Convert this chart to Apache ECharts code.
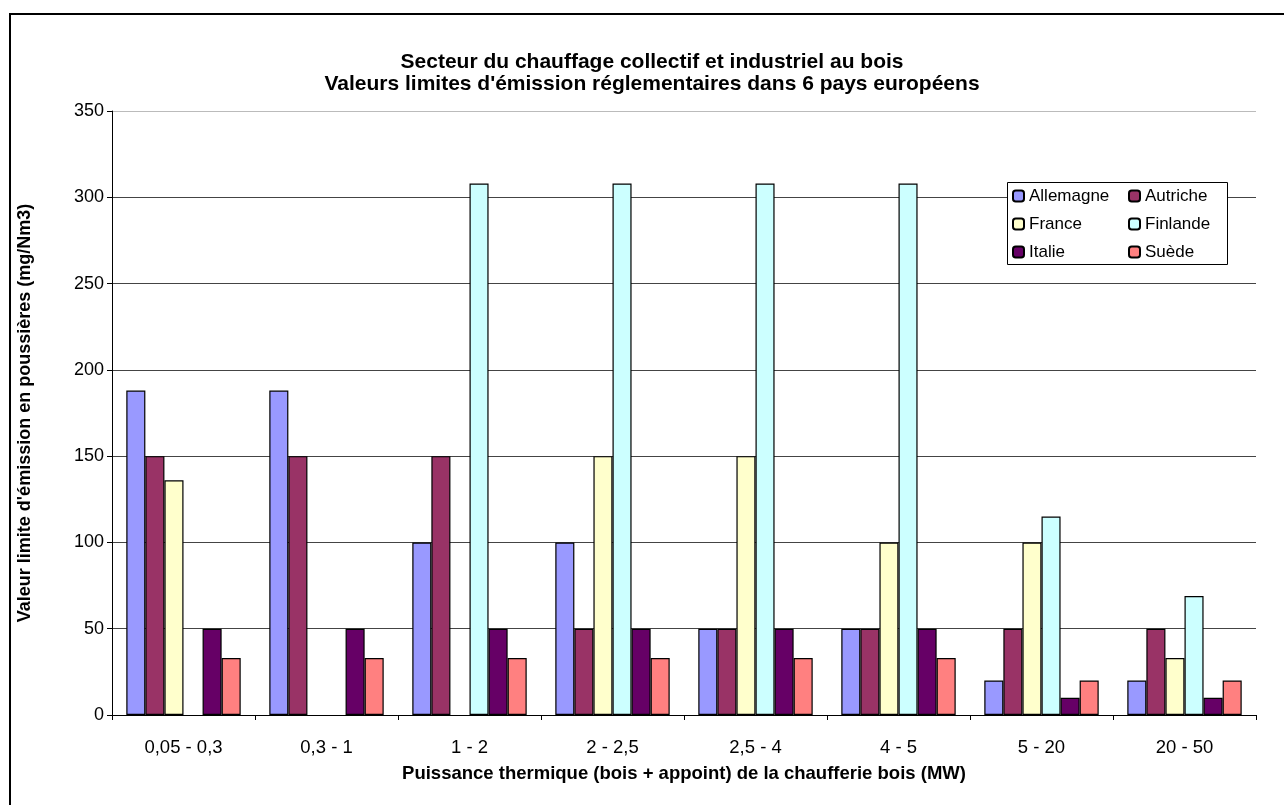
<!DOCTYPE html>
<html>
<head>
<meta charset="utf-8">
<script src="https://cdn.jsdelivr.net/npm/echarts@6/dist/echarts.min.js"></script>
<style>
  html, body { margin: 0; padding: 0; background: #ffffff; }
  #chart { width: 1284px; height: 805px; }
</style>
</head>
<body>
<div id="chart"></div>
<script>
// Power classes of the boiler (MW)
const categories = ['0,05 - 0,3', '0,3 - 1', '1 - 2', '2 - 2,5', '2,5 - 4', '4 - 5', '5 - 20', '20 - 50'];

// Dust emission limit values per country (mg/Nm3); null = no limit given
const allemagne = [188, 188, 100, 100, 50, 50, 20, 20];
const autriche  = [150, 150, 150, 50, 50, 50, 50, 50];
const france    = [136, null, null, 150, 150, 100, 100, 33];
const finlande  = [null, null, 308, 308, 308, 308, 115, 69];
const italie    = [50, 50, 50, 50, 50, 50, 10, 10];
const suede     = [33, 33, 33, 33, 33, 33, 20, 20];

const countries = ['Allemagne', 'Autriche', 'France', 'Finlande', 'Italie', 'Suède'];
const values = [allemagne, autriche, france, finlande, italie, suede];
const colors = ['#9999FF', '#993366', '#FFFFCC', '#CCFFFF', '#660066', '#FF8080'];

const FONT = '"Liberation Sans", Arial, sans-serif';

const chart = echarts.init(document.getElementById('chart'), null, { renderer: 'canvas' });

const series = countries.map((name, i) => ({
  name: name,
  type: 'bar',
  data: values[i],
  barGap: '0%',
  barCategoryGap: '20%',
  itemStyle: { color: colors[i], borderColor: '#000', borderWidth: 1.2 },
  emphasis: { disabled: true },
  animation: false
}));

const legendText = { fontFamily: FONT, fontSize: 17, color: '#000', lineHeight: 18 };

chart.setOption({
  backgroundColor: '#ffffff',
  animation: false,
  title: {
    text: "Secteur du chauffage collectif et industriel au bois\nValeurs limites d'émission réglementaires dans 6 pays européens",
    left: 652,
    top: 51,
    padding: 0,
    textAlign: 'center',
    textStyle: { fontFamily: FONT, fontSize: 21, fontWeight: 'bold', color: '#000', lineHeight: 22 }
  },
  grid: { left: 112, right: 28, top: 111, bottom: 90, containLabel: false },
  legend: [
    {
      data: ['Allemagne', 'France', 'Italie'],
      orient: 'vertical', left: 1012, top: 187, padding: 0,
      itemWidth: 11, itemHeight: 11, itemGap: 10,
      textStyle: legendText, z: 6, selectedMode: false
    },
    {
      data: ['Autriche', 'Finlande', 'Suède'],
      orient: 'vertical', left: 1128, top: 187, padding: 0,
      itemWidth: 11, itemHeight: 11, itemGap: 10,
      textStyle: legendText, z: 6, selectedMode: false
    }
  ],
  graphic: [
    // legend frame
    {
      type: 'rect', z: 5,
      shape: { x: 1007.5, y: 182.5, width: 220, height: 82 },
      style: { fill: '#ffffff', stroke: '#000', lineWidth: 1 }
    },
    // outer frame (left and top edges)
    {
      type: 'polyline', z: 5,
      shape: { points: [[10, 805], [10, 14], [1284, 14]] },
      style: { fill: null, stroke: '#000', lineWidth: 2 }
    }
  ],
  xAxis: {
    type: 'category',
    data: categories,
    name: 'Puissance thermique (bois + appoint) de la chaufferie bois (MW)',
    nameLocation: 'middle',
    nameGap: 49,
    nameTextStyle: { fontFamily: FONT, fontSize: 18.5, fontWeight: 'bold', color: '#000' },
    axisLine: { show: true, lineStyle: { color: '#000', width: 1 } },
    axisTick: { show: true, length: 5, interval: 0, lineStyle: { color: '#000' } },
    axisLabel: { fontFamily: FONT, fontSize: 18.5, color: '#000', margin: 23, interval: 0 },
    splitLine: { show: false }
  },
  yAxis: {
    type: 'value',
    min: 0, max: 350, interval: 50,
    name: "Valeur limite d'émission en poussières (mg/Nm3)",
    nameLocation: 'middle',
    nameRotate: 90,
    nameGap: 78,
    nameTextStyle: { fontFamily: FONT, fontSize: 18, fontWeight: 'bold', color: '#000' },
    axisLine: { show: true, lineStyle: { color: '#000', width: 1 } },
    axisTick: { show: true, length: 5, lineStyle: { color: '#000' } },
    axisLabel: { fontFamily: FONT, fontSize: 18, color: '#000', margin: 8 },
    splitLine: {
      show: true,
      lineStyle: { color: ['#444', '#444', '#444', '#444', '#444', '#444', '#444', '#bbb'], width: 1 }
    }
  },
  series: series
});
</script>
</body>
</html>
